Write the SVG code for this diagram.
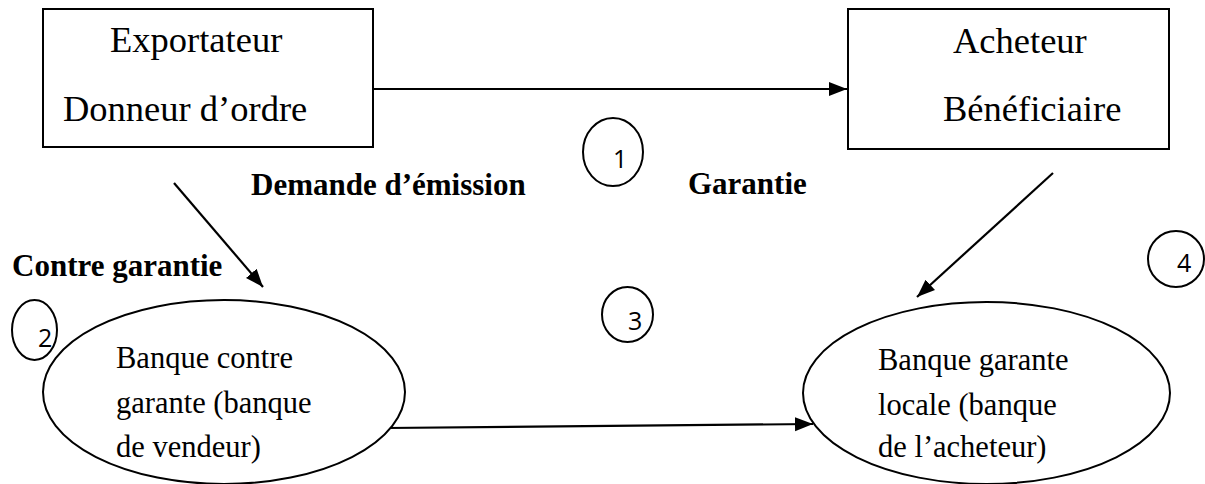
<svg xmlns="http://www.w3.org/2000/svg" width="1205" height="484" viewBox="0 0 1205 484">
<defs>
<style>
.box{fill:#fff;stroke:#000;stroke-width:2}
.ell{fill:#fff;stroke:#000;stroke-width:2}
.num{fill:none;stroke:#000;stroke-width:2}
.big{font-family:"Liberation Serif","Times New Roman",serif;font-size:36.5px;fill:#000}
.mid{font-family:"Liberation Serif","Times New Roman",serif;font-size:30.5px;fill:#000}
.lbl{font-family:"Liberation Serif","Times New Roman",serif;font-size:31px;font-weight:bold;fill:#000}
.dig{font-family:"Open Sans","Liberation Sans",sans-serif;font-size:25px;fill:#000}
.con{stroke:#000;stroke-width:2.2;fill:none}
</style>
<marker id="ah" markerUnits="userSpaceOnUse" markerWidth="19" markerHeight="15" refX="18" refY="7" orient="auto">
<path d="M0,0 L18,7 L0,14 z" fill="#000"/>
</marker>
</defs>
<rect width="1205" height="484" fill="#fff"/>
<g id="connectors">
<line class="con" x1="373" y1="89" x2="847" y2="89" stroke-width="2.8" marker-end="url(#ah)"/>
<line class="con" x1="174" y1="183" x2="263" y2="287" marker-end="url(#ah)"/>
<line class="con" x1="1053" y1="173" x2="917" y2="297" marker-end="url(#ah)"/>
<line class="con" x1="387" y1="428" x2="813" y2="424" marker-end="url(#ah)"/>
</g>
<g id="exportateur">
<rect class="box" x="43" y="9" width="330" height="138"/>
<text class="big" x="110" y="52">Exportateur</text>
<text class="big" x="63" y="121">Donneur d’ordre</text>
</g>
<g id="acheteur">
<rect class="box" x="848" y="9" width="321" height="140"/>
<text class="big" x="953" y="53">Acheteur</text>
<text class="big" x="943" y="121">Bénéficiaire</text>
</g>
<g id="banque-contre-garante">
<ellipse class="ell" cx="224" cy="392" rx="181" ry="92"/>
<text class="mid" x="116" y="368">Banque contre</text>
<text class="mid" x="116" y="413">garante (banque</text>
<text class="mid" x="116" y="457">de vendeur)</text>
</g>
<g id="banque-garante-locale">
<ellipse class="ell" cx="986.5" cy="393" rx="183.5" ry="91"/>
<text class="mid" x="878" y="370">Banque garante</text>
<text class="mid" x="878" y="415">locale (banque</text>
<text class="mid" x="878" y="457">de l’acheteur)</text>
</g>
<g id="labels">
<text class="lbl" x="251" y="195">Demande d’émission</text>
<text class="lbl" x="688" y="194">Garantie</text>
<text class="lbl" x="12" y="276">Contre garantie</text>
</g>
<g id="step1">
<ellipse class="num" cx="613" cy="152" rx="30" ry="34"/>
<text class="dig" x="613" y="168">1</text>
</g>
<g id="step2">
<ellipse class="num" cx="34.5" cy="330" rx="22.5" ry="30"/>
<text class="dig" x="38" y="347">2</text>
</g>
<g id="step3">
<ellipse class="num" cx="627.5" cy="314.5" rx="25.5" ry="27.5"/>
<text class="dig" x="628" y="330">3</text>
</g>
<g id="step4">
<ellipse class="num" cx="1176" cy="259" rx="28" ry="28"/>
<text class="dig" x="1177" y="272">4</text>
</g>
</svg>
